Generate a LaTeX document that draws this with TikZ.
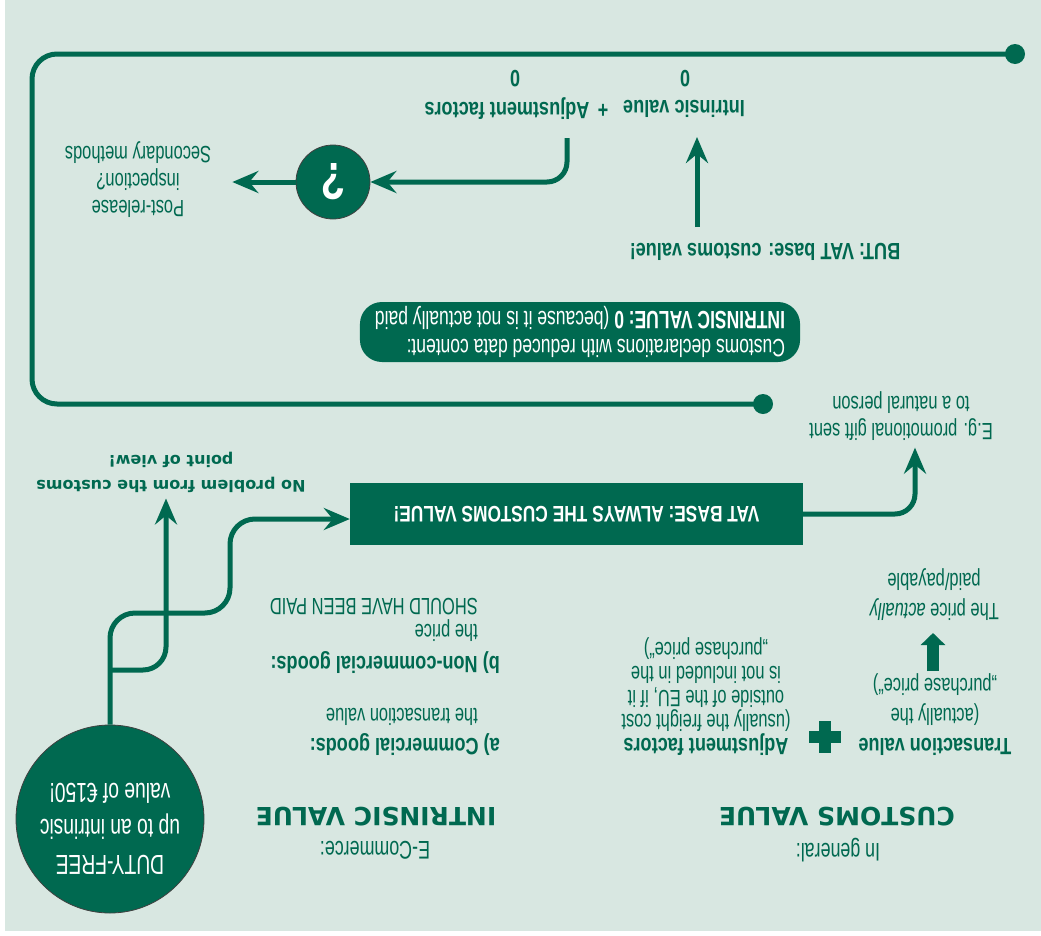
\documentclass[tikz,border=0pt]{standalone}
\usepackage{fontspec}
\setmainfont{Liberation Sans}[FakeStretch=0.70]
\newfontfamily\boldcond{Liberation Sans}[FakeStretch=0.77]
\newfontfamily\widebold{DejaVu Sans}
\usetikzlibrary{arrows.meta}
\definecolor{leaf}{RGB}{0,105,80}
\definecolor{paper}{RGB}{216,231,225}
\newcommand\fs[2]{\fontsize{#1}{#2}\selectfont}

\begin{document}
\begin{tikzpicture}[x=1pt, y=-1pt,
  every node/.style={inner sep=0pt, text=leaf},
  reg/.style={font=\fs{23.5}{27}},
  sub/.style={font=\fs{25.5}{28}},
  bld/.style={font=\boldcond\bfseries\fs{23.5}{27}},
  hdr/.style={font=\widebold\bfseries\fs{25}{30}},
  conn/.style={line width=5pt, draw=leaf},
  arr/.style={conn, -{Stealth[length=26pt, width=22pt, inset=9pt]}},
  fat/.style={line width=12pt, draw=leaf, -{Triangle[length=12pt, width=24pt]}},
  disc/.style={circle, fill=leaf, draw=black!75, line width=0.8pt, text=white},
  dot/.style={circle, fill=leaf, minimum size=20pt},
  band/.style={fill=leaf, text=white}
]
\useasboundingbox (0,0) rectangle (1041,935);
\fill[white] (0,0) rectangle (1041,935);

% the chart is laid out upright and printed upside down
\begin{scope}[rotate around={180:(520.5,467.5)}, transform shape]
\fill[paper] (0,4) rectangle (1036,935);

% ---- headings
\node[hdr] (cvh) at (204,118) {CUSTOMS VALUE};
\node[sub] (cvs) at (203,85) {In general:};
\node[hdr] (ivh) at (665,118) {INTRINSIC VALUE};
\node[sub] (ivs) at (666,85) {E-Commerce:};

% ---- customs value: transaction value + adjustment factors
\node[font=\fs{23.5}{30}, align=center] (tv) at (106,220)
  {{\boldcond\bfseries Transaction value}\\(actually the\\„purchase price“)};
\fill[leaf] (200,192) rectangle (232,204);
\fill[leaf] (210,182) rectangle (222,214);
\node[font=\fs{23.5}{24}, align=center] (adj) at (335,238)
  {{\boldcond\bfseries Adjustment factors}\\(usually the freight cost\\outside of the EU, if it\\is not included in the\\„purchase price“)};
\coordinate (fatA) at (108,264);
\coordinate (fatB) at (108,302);
\draw[fat] (fatA) -- (fatB);
\node[font=\fs{23.5}{30}, align=center] (pa) at (107,340) {The price \textit{actually}\\paid/payable};

% ---- intrinsic value cases
\node[bld, anchor=west] (ca) at (541,190) {a) Commercial goods:};
\node[reg, anchor=west] (cat) at (563,218) {the transaction value};
\node[bld, anchor=west] (nc) at (541,272) {b) Non-commercial goods:};
\node[font=\fs{23.5}{26}, anchor=west, align=left] (nct) at (563,315) {the price\\SHOULD HAVE BEEN PAID};

% ---- duty-free threshold and its two consequences
\node[disc, minimum size=188pt] (df) at (931,116) {};
\node[text=white, font=\fs{27.5}{36}, align=center] (dft) at (931,106)
  {DUTY-FREE\\up to an intrinsic\\value of €150!};
\node[font=\widebold\bfseries\fs{16}{25}, align=center, inner ysep=6pt] (np) at (870,463)
  {No problem from the customs\\point of view!};
\node[band, minimum width=453pt, minimum height=62pt, font=\boldcond\bfseries\fs{22.5}{26}] (vat) at (464.5,421)
  {VAT BASE: ALWAYS THE CUSTOMS VALUE!};
\coordinate (fork) at (931,265);
\draw[arr, rounded corners=23] (fork) -| ([xshift=5pt]np.north);
\draw[arr, rounded corners=25] (df.south) |- (811,322) |- ([yshift=5pt]vat.east);

\node[reg, align=center, inner ysep=7pt] (eg) at (140,519) {E.g. promotional gift sent\\to a natural person};
\draw[arr, rounded corners=20] (vat.west) -| ([xshift=-14pt]eg.north);

% ---- reduced declarations
\node[band, rounded corners=22pt, inner xsep=15pt, minimum height=60pt, align=left, font=\fs{25}{28}] (pill) at (461,603)
  {Customs declarations with reduced data content:\\\textbf{INTRINSIC VALUE: 0} (because it is not actually paid};

% ---- return loop
\node[dot] (d1) at (278,531) {};
\node[dot] (d2) at (26,881) {};
\draw[conn, rounded corners=25] (d1.center) -- (1009,531) -- (1009,881) -- (d2.center);

% ---- VAT base and the resulting sum
\node[bld] (but) at (276,683) {BUT: VAT base: customs value!};
\node[bld] (iv) at (357,826) {Intrinsic value};
\node[bld] (pl) at (438,826) {+};
\node[bld] (af) at (534,826) {Adjustment factors};
\node[bld] (z1) at (356,856) {0};
\node[bld] (z2) at (526,856) {0};
\coordinate (ivin) at (344,798);
\draw[arr, shorten <=16pt] (but.south -| ivin) -- (ivin);

\node[disc, minimum size=74pt, font=\boldcond\bfseries\fs{52}{52}] (q) at (708,753) {?};
\draw[arr, rounded corners=20, shorten <=18pt] ([xshift=-60pt]af.north) |- (q.west);
\node[reg, align=center] (pr) at (903,755) {Post-release\\inspection?\\Secondary methods};
\draw[arr, shorten >=21pt] (q.east) -- (q.east -| pr.west);
\end{scope}
\end{tikzpicture}
\end{document}
